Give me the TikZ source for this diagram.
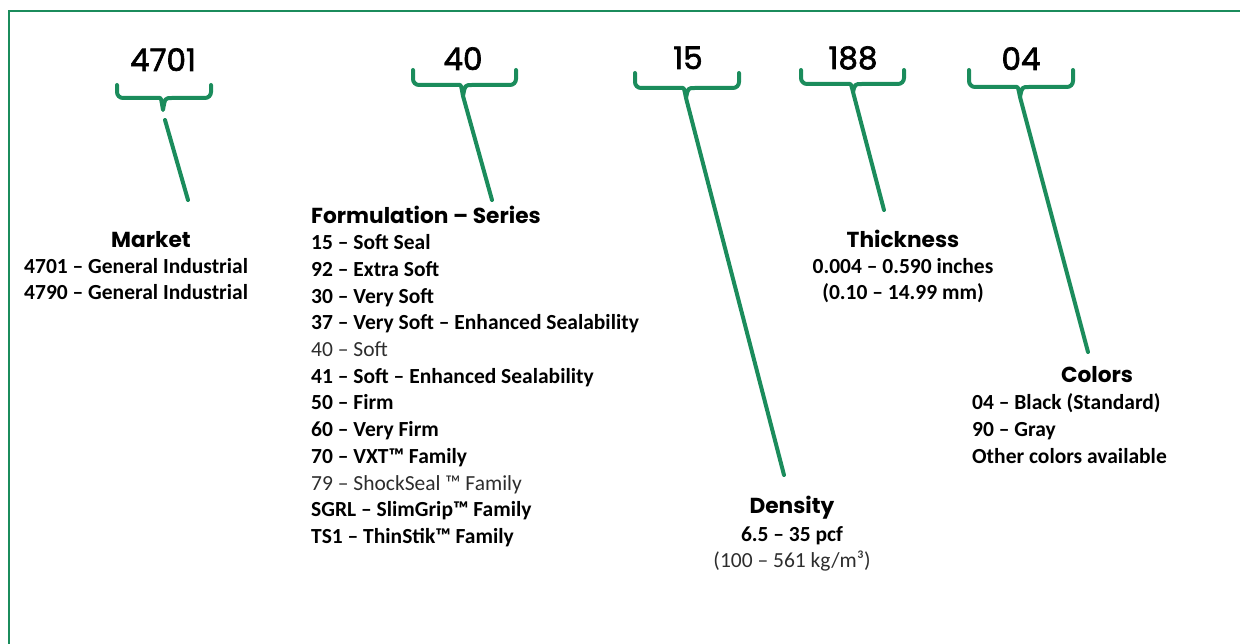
\documentclass[tikz,border=0pt]{standalone}
\usepackage{fontspec}
\setmainfont{Carlito}
\newfontfamily\headfont{Poppins}
\newfontfamily\codefont{Poppins}
\usetikzlibrary{positioning,calc}
\definecolor{foamgreen}{RGB}{27,140,92}
\definecolor{textgray}{RGB}{45,45,45}
\tikzset{
  frame/.style={draw=foamgreen, line width=2.5pt},
  brace/.style={draw=foamgreen, line width=4pt, line cap=round, line join=round},
  leader/.style={draw=foamgreen, line width=4pt, line cap=round},
  code/.style={font=\codefont\addfontfeature{FakeBold=2}\fontsize{31}{33}\selectfont, inner sep=0pt, text height=22pt, text depth=0pt},
  head/.style={font=\headfont\bfseries\fontsize{21.7}{24}\selectfont, inner sep=0pt, text height=15pt, text depth=0pt},
  item/.style={font=\bfseries\fontsize{21.5}{24}\selectfont, inner sep=0pt, text height=14pt, text depth=0pt, anchor=west},
  plain/.style={font=\mdseries\fontsize{21.5}{24}\selectfont, text=textgray}
}

\begin{document}
\begin{tikzpicture}[x=1pt, y=-1pt]
  \useasboundingbox (0,0) rectangle (1240,644);
  \draw[frame] (9,650) -- (9,11) -- (1250,11);

  % part codes
  \node[code] (mkt) at (163,60) {4701};
  \node[code] (form) at (463,59) {40};
  \node[code] (dens) at (688,58) {15};
  \node[code] (thick) at (853,58) {188};
  \node[code] (col) at (1021,59) {04};

  % braces under the codes
  \foreach \l/\r/\t/\b/\c/\d [count=\i] in {117/211/85/98/163/110, 413/516/70/85/463/96,
      635/739/73/88/686/98, 801/904/70/84/853/92, 969/1073/70/87/1020/97} {
    \draw[brace, rounded corners=6pt] (\l,\t) -- (\l,\b) -- (\c-9,\b) [sharp corners]
      .. controls (\c-2,\b) .. (\c,\d) .. controls (\c+2,\b) .. (\c+9,\b) [rounded corners=6pt]
      -- (\r,\b) -- (\r,\t);
    \coordinate (tip\i) at (\c,\d);
  }

  % leader ends
  \coordinate (start1) at (165,120);
  \coordinate (end1) at (188,200);
  \coordinate (end2) at (492,200);
  \coordinate (end3) at (784,475);
  \coordinate (end4) at (884,210);
  \coordinate (end5) at (1088,352);
  \draw[leader] (start1) -- (end1);
  \draw[leader] (tip2) -- (end2);
  \draw[leader] (tip3) -- (end3);
  \draw[leader] (tip4) -- (end4);
  \draw[leader] (tip5) -- (end5);

  % Market
  \node[head] (mktHead) at (151,240) {Market};
  \node[item] (mkt1) at (24,267) {4701 – General Industrial};
  \node[item] (mkt2) at (24,293) {4790 – General Industrial};

  % Formulation
  \node[head, anchor=west] (formHead) at (311,216) {Formulation – Series};
  \foreach \txt [count=\i] in {15 – Soft Seal, 92 – Extra Soft, 30 – Very Soft,
      37 – Very Soft – Enhanced Sealability, {\mdseries\color{textgray}40 – Soft},
      41 – Soft – Enhanced Sealability, 50 – Firm, 60 – Very Firm, 70 – VXT™ Family,
      {\mdseries\color{textgray}79 – ShockSeal ™ Family}, SGRL – SlimGrip™ Family,
      TS1 – ThinStik™ Family}
    \node[item] (form\i) at (311,216+26.7*\i) {\txt};

  % Density
  \node[head] (densHead) at (792,506) {Density};
  \node[item, anchor=center] (dens1) at (792,534) {6.5 – 35 pcf};
  \node[item, plain, anchor=center] (dens2) at (792,560) {(100 – 561 kg/m³)};

  % Thickness
  \node[head] (thickHead) at (903,240) {Thickness};
  \node[item, anchor=center] (thick1) at (903,267) {0.004 – 0.590 inches};
  \node[item, anchor=center] (thick2) at (903,293) {(0.10 – 14.99 mm)};

  % Colors
  \node[head] (colHead) at (1097,375) {Colors};
  \node[item] (col1) at (972,402) {04 – Black (Standard)};
  \node[item] (col2) at (972,429) {90 – Gray};
  \node[item] (col3) at (972,456) {Other colors available};
\end{tikzpicture}
\end{document}
